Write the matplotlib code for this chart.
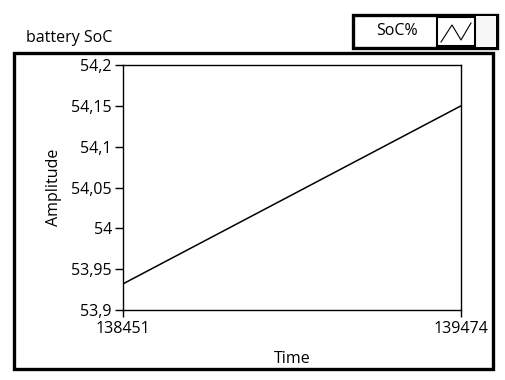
import matplotlib
matplotlib.use('Agg')
import matplotlib.pyplot as plt
from matplotlib.patches import Rectangle
from matplotlib.lines import Line2D

# data
time = [138451, 139474]
soc = [53.932, 54.150]
yticks = [53.9, 53.95, 54.0, 54.05, 54.1, 54.15, 54.2]
ytick_labels = ['53,9', '53,95', '54', '54,05', '54,1', '54,15', '54,2']
xticks = [138451, 139474]

plt.rcParams['font.family'] = ['Open Sans', 'DejaVu Sans']
FS = 11.5

W, H = 505, 380
fig = plt.figure(figsize=(W / 100, H / 100), dpi=100)
fig.patch.set_facecolor('white')


def fx(px):
    return px / W


def fy(py):
    return 1 - py / H


# outer frame of the chart
fig.add_artist(Rectangle((fx(14), fy(369)), fx(493) - fx(14), fy(53) - fy(369),
                         transform=fig.transFigure, fill=False, lw=2.4, ec='black'))

# legend box
fig.add_artist(Rectangle((fx(353), fy(48)), fx(497) - fx(353), fy(15) - fy(48),
                         transform=fig.transFigure, fc='white', lw=2.4, ec='black'))
fig.add_artist(Rectangle((fx(475), fy(46.5)), fx(496) - fx(475), fy(16.5) - fy(46.5),
                         transform=fig.transFigure, fc='#f7f7f7', lw=0))
fig.add_artist(Rectangle((fx(437), fy(46)), fx(475) - fx(437), fy(17) - fy(46),
                         transform=fig.transFigure, fc='white', lw=1.5, ec='black'))
fig.add_artist(Line2D([fx(441), fx(452), fx(461), fx(471)],
                      [fy(42), fy(25), fy(40), fy(23)],
                      transform=fig.transFigure, color='black', lw=0.8))
fig.text(fx(397), fy(31), 'SoC%', ha='center', va='center', fontsize=FS)

fig.text(fx(26), fy(38), 'battery SoC', ha='left', va='center', fontsize=FS)

ax = fig.add_axes([fx(123), fy(310), fx(461) - fx(123), fy(65) - fy(310)])
ax.plot(time, soc, color='black', lw=1.1)
ax.set_xlim(time[0], time[-1])
ax.set_ylim(53.9, 54.2)
ax.set_yticks(yticks)
ax.set_yticklabels(ytick_labels)
ax.set_xticks(xticks)
ax.set_xticklabels([str(t) for t in xticks])
for s in ax.spines.values():
    s.set_linewidth(1.0)
ax.tick_params(axis='y', direction='out', length=6, width=1, pad=2, labelsize=FS)
ax.tick_params(axis='x', direction='out', length=5, width=1, pad=3, labelsize=FS)
ax.set_xlabel('Time', fontsize=FS, labelpad=10)
ax.set_ylabel('Amplitude', fontsize=FS, labelpad=7)

fig.savefig('out.png', dpi=100, facecolor='white')
